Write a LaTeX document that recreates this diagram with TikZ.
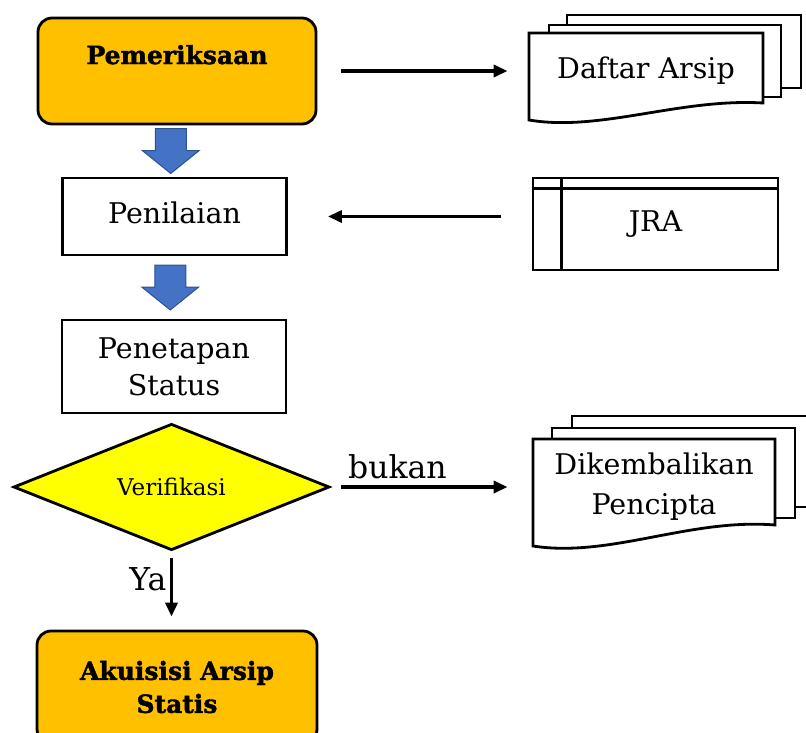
\documentclass[tikz,border=0pt]{standalone}
\usepackage{fontspec}
\setmainfont{DejaVu Serif}
\newfontfamily\tebal[FakeBold=1.6]{DejaVu Serif Bold}
\usetikzlibrary{shapes.geometric, arrows.meta, calc}

\begin{document}
\begin{tikzpicture}[x=1pt, y=-1pt, thick]

  % Define Colors
  \definecolor{oranye}{RGB}{255,192,0}
  \definecolor{kuning}{RGB}{255,255,0}
  \definecolor{biru}{RGB}{68,114,196}
  \definecolor{birugaris}{RGB}{47,82,143}

  % Node styles
  \tikzstyle{terminal}=[rectangle, rounded corners=14pt, draw, line width=2.8pt, fill=oranye, align=center, font=\fontsize{25}{33}\selectfont\tebal]
  \tikzstyle{proses}=[rectangle, draw, line width=2.8pt, minimum width=224, align=center, font=\fontsize{28.5}{37}\selectfont]
  \tikzstyle{keputusan}=[diamond, draw, line width=2.8pt, fill=kuning, minimum width=316, minimum height=118, inner sep=0pt, font=\fontsize{23}{24}\selectfont]
  \tikzstyle{dokumen}=[rectangle, align=center, font=\fontsize{28.5}{40}\selectfont]
  \tikzstyle{lembar}=[line width=2.8pt, fill=white]
  \tikzstyle{garis}=[line width=3.4pt, -{Triangle[length=14pt, width=12pt]}]
  \tikzstyle{keterangan}=[font=\fontsize{31.5}{34}\selectfont]

  \tikzset{panahblok/.pic={
    \filldraw[fill=biru, draw=birugaris, line width=1pt] (-15.5,-22.5) -- (15.5,-22.5) -- (15.5,-0.5) -- (28.5,-0.5)
      -- (0,22.5) -- (-28.5,-0.5) -- (-15.5,-0.5) -- cycle;}}

  \path[use as bounding box, clip] (0,0) rectangle (806,732);

  % Pages behind the documents
  \filldraw[lembar] (567,15) rectangle (801,88);
  \filldraw[lembar] (549,25) rectangle (781,97);
  \filldraw[lembar] (529,33) -- (763,33) -- (763,103) .. controls (680,98) and (600,132) .. (529,120) -- cycle;

  \filldraw[lembar] (572,416) rectangle (830,507);
  \filldraw[lembar] (552,428) rectangle (795,518);
  \filldraw[lembar] (533,439) -- (775,439) -- (775,525) .. controls (690,518) and (610,558) .. (533,546) -- cycle;

  % Nodes
  \node[terminal, minimum width=278, minimum height=106] (n_pem) at (177,71) {Pemeriksaan\\~};
  \node[proses, minimum height=77] (n_pen) at (174.5,216.5) {\raisebox{8pt}{Penilaian}};
  \node[proses, minimum height=93] (n_pet) at (174,366.5) {Penetapan\\Status};
  \node[keputusan] (n_ver) at (171.5,487) {Verifikasi};
  \node[terminal, minimum width=280, minimum height=112] (n_aku) at (177,687) {Akuisisi Arsip\\Statis};

  \node[dokumen, minimum width=234] (n_daftar) at (646,71) {\raisebox{4pt}{Daftar Arsip}};
  \node[dokumen, minimum width=242] (n_dik) at (654,487) {Dikembalikan\\Pencipta};
  \node[draw, line width=2.8pt, minimum width=245, minimum height=92, font=\fontsize{28.5}{30}\selectfont] (n_jra) at (655.5,224) {\raisebox{3pt}{JRA}};
  \draw[line width=2.8pt] ([yshift=-12pt]n_jra.north west) -- ([yshift=-12pt]n_jra.north east);
  \draw[line width=2.8pt] ([xshift=30pt]n_jra.north west) -- ([xshift=30pt]n_jra.south west);

  % Block arrows
  \pic at ($(n_pem.south)!0.5!(n_pen.north)+(-5,0)$) {panahblok};
  \pic at ($(n_pen.south)!0.5!(n_pet.north)+(-4,0)$) {panahblok};

  % Connectors
  \draw[garis, shorten <=24pt, shorten >=21pt] (n_pem.east) -- (n_pem.east -| n_daftar.west);
  \draw[garis, shorten <=31pt, shorten >=40pt] (n_jra.west |- n_pen.east) -- (n_pen.east);
  \draw[garis, shorten <=10pt, shorten >=25pt] (n_ver.east) -- (n_ver.east -| n_dik.west)
    node[keterangan, pos=0.33, above=3pt] {bukan};
  \draw[garis, shorten <=6pt, shorten >=13pt] (n_ver.south) -- (n_ver.south |- n_aku.north)
    node[keterangan, pos=0.35, left] {Ya};

\end{tikzpicture}
\end{document}
